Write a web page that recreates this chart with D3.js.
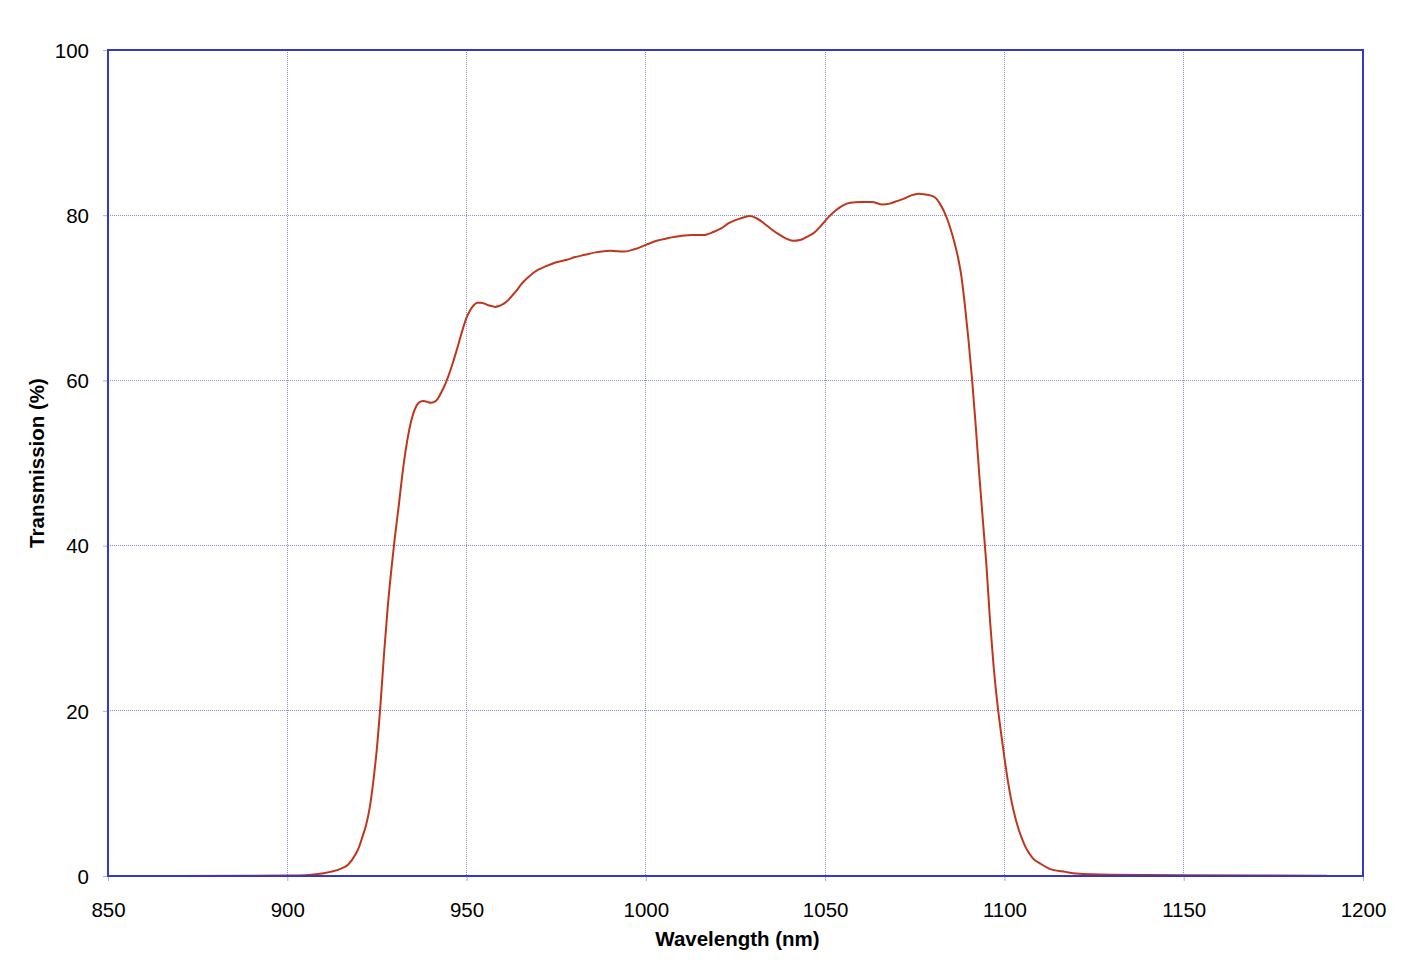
<!DOCTYPE html>
<html>
<head>
<meta charset="utf-8">
<script src="https://cdn.jsdelivr.net/npm/d3@7"></script>
<style>
  html, body { margin: 0; padding: 0; background: #fff; }
  svg { display: block; }
  text { font-family: "Liberation Sans", Arial, Helvetica, sans-serif; }
</style>
</head>
<body>
<svg id="chart" width="1414" height="976"></svg>
<script>
// ---- data ----
const wavelength = [850, 870, 890, 900, 905, 908, 912, 915, 917, 919, 920, 921, 922, 923, 924, 925, 926, 927, 928, 929, 930, 931, 932, 933, 934, 935, 936, 937, 938, 939, 940, 941, 942, 943, 944, 945, 946, 947, 948, 949, 950, 951, 952, 953, 954, 955, 956, 957, 958, 959, 960, 961, 962, 963, 964, 965, 966, 968, 970, 972, 975, 978, 980, 983, 986, 990, 994, 997, 1000, 1003, 1006, 1010, 1013, 1016, 1019, 1021, 1023, 1025, 1027, 1029, 1031, 1033, 1035, 1037, 1039, 1041, 1043, 1045, 1047, 1049, 1051, 1053, 1055, 1057, 1060, 1063, 1066, 1068, 1070, 1072, 1074, 1076, 1078, 1080, 1081, 1082, 1083, 1084, 1085, 1086, 1087, 1088, 1089, 1090, 1091, 1092, 1093, 1094, 1095, 1096, 1097, 1098, 1099, 1100, 1101, 1102, 1103, 1104, 1105, 1106, 1107, 1108, 1110, 1113, 1117, 1120, 1130, 1150, 1170, 1190];
const transmission = [0, 0, 0.02, 0.05, 0.1, 0.2, 0.5, 0.9, 1.4, 2.6, 3.5, 4.8, 6.2, 8.3, 11.5, 15.5, 20.8, 27, 32.5, 37, 41, 44.5, 48.3, 51.5, 54, 55.8, 56.9, 57.4, 57.5, 57.4, 57.3, 57.4, 57.8, 58.6, 59.5, 60.6, 61.9, 63.3, 64.8, 66.3, 67.6, 68.5, 69.1, 69.4, 69.4, 69.3, 69.1, 69.0, 68.9, 69.0, 69.2, 69.5, 69.9, 70.4, 70.9, 71.5, 72.0, 72.8, 73.4, 73.8, 74.3, 74.6, 74.9, 75.2, 75.5, 75.7, 75.6, 75.9, 76.4, 76.9, 77.2, 77.5, 77.6, 77.6, 78.0, 78.4, 79.0, 79.4, 79.7, 79.9, 79.6, 79.0, 78.3, 77.7, 77.2, 76.9, 77.0, 77.4, 77.9, 78.8, 79.8, 80.6, 81.2, 81.5, 81.6, 81.6, 81.3, 81.4, 81.7, 82.0, 82.4, 82.6, 82.5, 82.3, 82.0, 81.4, 80.6, 79.6, 78.3, 76.8, 75.0, 72.6, 69.0, 64.8, 60.0, 54.5, 48.5, 43.0, 37.5, 30.8, 25.3, 21.0, 17.5, 14.3, 11.4, 9.0, 7.1, 5.6, 4.4, 3.4, 2.7, 2.1, 1.5, 0.8, 0.5, 0.3, 0.15, 0.08, 0.05, 0.04];
const xTicks = [850, 900, 950, 1000, 1050, 1100, 1150, 1200];
const yTicks = [0, 20, 40, 60, 80, 100];
const xTitle = "Wavelength (nm)";
const yTitle = "Transmission (%)";

// ---- layout ----
const svg = d3.select("#chart");
const margin = { left: 108, right: 1414 - 1363, top: 50, bottom: 976 - 876 };
const W = 1414, H = 976;
const x = d3.scaleLinear().domain([850, 1200]).range([margin.left, W - margin.right]);
const y = d3.scaleLinear().domain([0, 100]).range([H - margin.bottom, margin.top]);

const gridColor = "#8c8fd6";
const axisColor = "#3437c8";

// gridlines
svg.append("g").selectAll("line.vg").data(xTicks.slice(1, -1)).join("line")
  .attr("x1", d => x(d)).attr("x2", d => x(d))
  .attr("y1", y(100)).attr("y2", y(0))
  .attr("stroke", gridColor).attr("stroke-width", 1).attr("stroke-dasharray", "1,1")
  .attr("shape-rendering", "crispEdges");
svg.append("g").selectAll("line.hg").data(yTicks.slice(1, -1)).join("line")
  .attr("y1", d => y(d)).attr("y2", d => y(d))
  .attr("x1", x(850)).attr("x2", x(1200))
  .attr("stroke", gridColor).attr("stroke-width", 1).attr("stroke-dasharray", "1,1")
  .attr("shape-rendering", "crispEdges");

// axes (ticks + labels)
const xAxis = d3.axisBottom(x).tickValues(xTicks).tickSize(5).tickPadding(21).tickFormat(d3.format("d"));
const yAxis = d3.axisLeft(y).tickValues(yTicks).tickSize(5).tickPadding(14).tickFormat(d3.format("d"));
const gx = svg.append("g").attr("transform", `translate(0,${y(0)})`).call(xAxis);
const gy = svg.append("g").attr("transform", `translate(${x(850)},0)`).call(yAxis);
[gx, gy].forEach(g => {
  g.select(".domain").remove();
  g.selectAll(".tick line").attr("stroke", "#a9abe0");
  g.selectAll(".tick text").attr("fill", "#000").style("font-size", "20.5px")
    .style("font-family", "'Liberation Sans', Arial, sans-serif");
});
gy.selectAll(".tick text").attr("dy", "0.36em");

// line
const line = d3.line()
  .x((d, i) => x(wavelength[i]))
  .y(d => y(d))
  .curve(d3.curveMonotoneX);
svg.append("path")
  .datum(transmission)
  .attr("d", line)
  .attr("fill", "none")
  .attr("stroke", "#c0361c")
  .attr("stroke-width", 2)
  .attr("stroke-linejoin", "round");

// frame
svg.append("rect")
  .attr("x", x(850)).attr("y", y(100))
  .attr("width", x(1200) - x(850)).attr("height", y(0) - y(100))
  .attr("fill", "none").attr("stroke", axisColor).attr("stroke-width", 2);

// titles
svg.append("text")
  .attr("x", (x(850) + x(1200)) / 2 + 2).attr("y", 946)
  .attr("text-anchor", "middle")
  .style("font-size", "20.5px").style("font-weight", "bold")
  .text(xTitle);
svg.append("text")
  .attr("transform", `translate(44,${(y(0) + y(100)) / 2}) rotate(-90)`)
  .attr("text-anchor", "middle")
  .style("font-size", "20.5px").style("font-weight", "bold")
  .text(yTitle);
</script>
</body>
</html>
